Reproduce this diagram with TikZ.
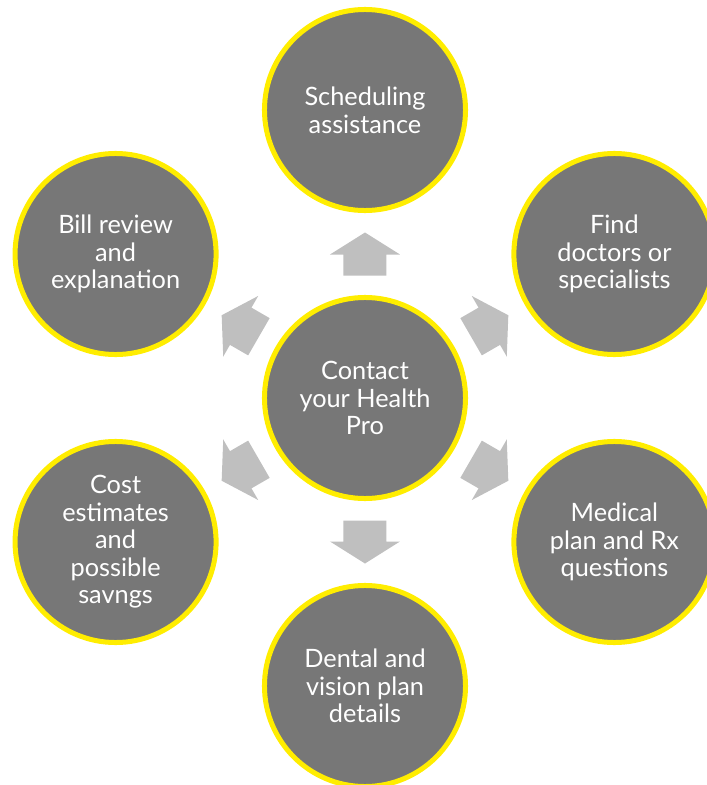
\documentclass[tikz,border=0pt]{standalone}
\usepackage{fontspec}
\setmainfont{Lato}
\usetikzlibrary{calc}
\definecolor{ringyellow}{RGB}{255,237,0}
\definecolor{discgrey}{RGB}{119,119,119}
\definecolor{arrowgrey}{RGB}{191,191,191}
\tikzset{
	topic/.style={circle, draw=ringyellow, fill=discgrey, line width=0.125cm, minimum size=5.025cm, inner sep=0pt, text=white, align=center, font=\fontsize{18}{19.6}\selectfont},
	blockarrow/.pic={\fill[arrowgrey] (-21.5,-21.5) -- (-0.5,-21.5) -- (-0.5,-35) -- (21.5,0) -- (-0.5,35) -- (-0.5,21.5) -- (-21.5,21.5) -- cycle;}
}

\begin{document}
\begin{tikzpicture}[x=0.025cm, y=0.025cm]
			%%%%% START %%%%%
			\useasboundingbox (-365,-387) rectangle (342,398);
			
			\node[topic] (hub) at (0,0) {Contact\\your Health\\Pro};
			
			\node[topic] (sched) at (90:288) {Scheduling\\assistance};
			\node[topic] (doctors) at (30:288) {Find\\doctors or\\specialists};
			\node[topic] (medical) at (-30:288) {Medical\\plan and Rx\\questions};
			\node[topic] (dental) at (-90:288) {Dental and\\vision plan\\details};
			\node[topic] (cost) at (210:288) {Cost\\estimates\\and\\possible\\savngs};
			\node[topic] (bill) at (150:288) {Bill review\\and\\explanation};
			
			\pic[rotate=90] at ($(hub)!0.5!(sched)$) {blockarrow};
			\pic[rotate=30] at ($(hub)!0.5!(doctors)$) {blockarrow};
			\pic[rotate=-30] at ($(hub)!0.5!(medical)$) {blockarrow};
			\pic[rotate=-90] at ($(hub)!0.5!(dental)$) {blockarrow};
			\pic[rotate=210] at ($(hub)!0.5!(cost)$) {blockarrow};
			\pic[rotate=150] at ($(hub)!0.5!(bill)$) {blockarrow};
			
			%%%%% END %%%%%
\end{tikzpicture}
\end{document}
